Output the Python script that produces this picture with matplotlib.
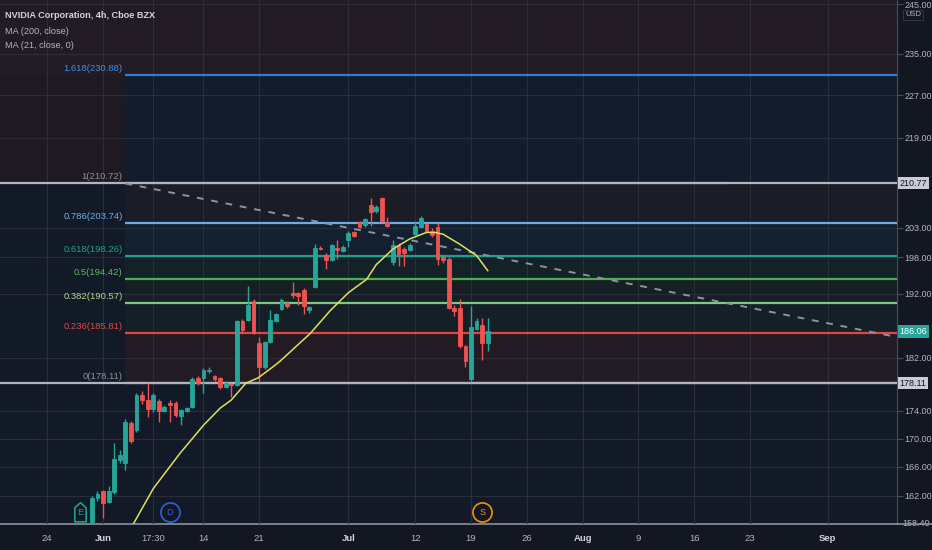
import matplotlib
matplotlib.use('Agg')
import matplotlib.pyplot as plt
import numpy as np
from matplotlib.path import Path
import matplotlib.transforms as mtransforms
from matplotlib.lines import Line2D

plt.rcParams['font.family'] = ['Liberation Sans Narrow', 'Liberation Sans', 'DejaVu Sans']

# ---------------- data ----------------
# x position = trading-day index (Jun 1 2021 = 0), two 4h bars per trading day
bar_t = np.arange(-1.0, 35.0, 0.5)
opens = [157.2, 161.7, 162.6, 161.2, 162.5, 167.0, 166.5, 172.3, 171.2, 176.3,
         175.6, 174.3, 175.5, 174.0, 175.2, 175.2, 173.2, 174.0, 174.6, 178.9,
         178.9, 180.0, 179.2, 178.9, 177.6, 178.0, 177.9, 187.7, 187.8, 190.9,
         184.3, 180.5, 184.4, 187.7, 189.6, 190.5, 192.1, 192.1, 192.6, 189.4,
         193.2, 199.6, 198.4, 197.6, 199.6, 199.1, 201.0, 202.3, 204.0, 203.4,
         206.9, 205.9, 208.2, 204.0, 197.2, 200.1, 199.4, 199.2, 202.0, 203.2,
         203.6, 202.5, 203.2, 198.0, 197.8, 189.8, 189.8, 183.7, 178.7, 186.4,
         187.1, 184.3]
highs = [162.0, 162.6, 162.8, 163.4, 169.3, 168.4, 172.8, 172.6, 176.6, 176.9,
         178.1, 176.6, 175.8, 174.9, 175.6, 175.5, 174.3, 174.6, 179.0, 179.2,
         180.4, 180.5, 179.4, 179.1, 178.4, 178.2, 187.9, 188.0, 193.3, 191.2,
         185.2, 184.6, 189.4, 189.0, 191.3, 190.8, 193.9, 192.3, 192.9, 190.1,
         200.3, 199.9, 198.7, 200.3, 201.0, 200.0, 202.4, 202.5, 204.2, 204.7,
         208.2, 206.9, 208.4, 204.9, 200.9, 200.4, 199.7, 200.4, 204.2, 205.1,
         203.9, 202.9, 203.9, 198.4, 198.0, 190.2, 191.2, 183.9, 190.0, 188.2,
         188.2, 188.1]
lows = [156.8, 161.3, 159.0, 161.0, 162.3, 166.6, 165.6, 169.3, 170.9, 175.0,
        173.1, 173.9, 172.4, 173.8, 172.4, 173.1, 171.9, 173.8, 174.4, 177.9,
        176.7, 179.6, 178.5, 177.3, 177.4, 176.0, 177.7, 185.8, 187.6, 185.6,
        178.35, 180.3, 184.2, 187.5, 189.4, 189.8, 191.4, 190.3, 188.8, 189.0,
        192.9, 199.2, 196.0, 197.4, 197.7, 198.9, 199.8, 201.4, 203.0, 203.2,
        203.3, 205.6, 204.0, 203.1, 196.7, 196.6, 196.6, 199.0, 201.8, 203.0,
        202.3, 201.5, 196.7, 197.0, 189.6, 188.5, 183.5, 180.6, 178.35, 186.2,
        181.6, 183.0]
closes = [161.7, 162.2, 161.0, 162.6, 167.1, 167.7, 172.4, 169.6, 176.3, 175.6,
          174.3, 176.3, 174.0, 174.6, 174.8, 173.4, 174.1, 174.4, 178.8, 178.1,
          180.1, 180.1, 178.7, 177.6, 178.2, 177.9, 187.6, 186.3, 190.2, 185.8,
          180.5, 184.4, 187.8, 188.8, 191.1, 190.0, 191.9, 191.7, 190.0, 189.9,
          199.6, 199.4, 197.6, 200.1, 199.2, 199.8, 202.1, 201.6, 203.2, 204.5,
          205.7, 206.6, 204.2, 203.3, 200.0, 198.6, 198.8, 200.1, 203.3, 204.7,
          202.5, 201.7, 197.8, 197.5, 189.8, 189.2, 183.7, 181.4, 186.8, 187.7,
          184.3, 186.06]

# MA(21) line
ma_t = [2.6, 4.51, 6.9, 9.0, 10.5, 11.5, 12.8, 13.9, 15.1, 15.85, 18.57, 20.36,
        22.0, 23.65, 24.5, 26.0, 27.5, 29.0, 29.75, 30.5, 32.0, 33.5, 34.5]
ma_v = [157.9, 163.0, 167.9, 171.9, 174.4, 175.6, 178.1, 178.9, 180.4, 181.4,
        185.7, 189.3, 192.2, 194.4, 196.8, 199.4, 201.1, 202.2, 202.2, 201.9,
        200.2, 198.3, 195.8]

# Fibonacci retracement
fib_ratios = ['1.618', '1', '0.786', '0.618', '0.5', '0.382', '0.236', '0']
fib_prices = [230.88, 210.72, 203.74, 198.26, 194.42, 190.57, 185.81, 178.11]
fib_start_t = 2.0

# horizontal lines
hline_prices = [210.77, 178.11]
last_price = 186.06

# trend line (dashed)
trend_t = [2.0, 70.8]
trend_p = [210.72, 185.3]

# events
event_labels = ['E', 'D', 'S']
event_t = [-2.06, 6.0, 34.0]

# axis ticks
ytick_vals = [162, 166, 170, 174, 182, 192, 198, 203, 219, 227, 235, 245]
xtick_t = [-5, 0, 4.5, 9, 14, 22, 28, 33, 38, 43, 48, 53, 58, 65]
xtick_labels = ['24', 'Jun', '17:30', '14', '21', 'Jul', '12', '19', '26', 'Aug', '9', '16', '23', 'Sep']

# ---------------- figure ----------------
W, H = 932, 550
fig = plt.figure(figsize=(W / 100, H / 100), dpi=100)
fig.patch.set_facecolor('#131722')
ax = fig.add_axes([0, 26 / H, 897 / W, 524 / H])
ax.set_facecolor('#131a27')
ax.set_yscale('log')
ax.set_xlim(-9.24, 71.2)
ax.set_ylim(158.2, 245.9)
t_right = 71.2

# background bands
ax.axhspan(fib_prices[1], 300, color='#1f1a22', zorder=0.5, lw=0)
ax.axhspan(fib_prices[0], 300, color='#221b23', zorder=0.6, lw=0)
band_cols = ['#121c2c', '#1a1c26', '#13202f', '#132128', '#161f23', '#151f27', '#221b24']
for i, c in enumerate(band_cols):
    ax.fill_between([fib_start_t, t_right], fib_prices[i + 1], fib_prices[i],
                    color=c, lw=0, zorder=0.8)

# grid
ax.set_axisbelow(False)
ax.grid(True, color='#2a2e3a', lw=0.8)

# fib lines and labels
fib_line_cols = ['#2e7fd6', '#6a8fc4', '#6aaee8', '#1e9e8c', '#4caf50', '#81c784', '#e0483f', '#9a9ea8']
fib_text_cols = ['#3d8fe0', '#8d9099', '#6fb0ea', '#22a08c', '#5cb860', '#b3cf95', '#e04a45', '#8d9099']
for i, (r, p) in enumerate(zip(fib_ratios, fib_prices)):
    xe = 56.0 if r == '1' else t_right
    ax.plot([fib_start_t, xe], [p, p], color=fib_line_cols[i], lw=1.6, zorder=3,
            solid_capstyle='butt')
    ax.annotate(f'{r}({p:.2f})', xy=(fib_start_t, p), xytext=(-2, 1.5),
                textcoords='offset points', ha='right', va='bottom',
                color=fib_text_cols[i], fontsize=6.8, zorder=6)

# horizontal lines (full width)
for p in hline_prices:
    ax.axhline(p, color='#b0b4bf', lw=1.6, zorder=3.2)

# dashed trend line
ax.plot(trend_t, trend_p, color='#8f939e', lw=1.4, ls=(0, (3.5, 4)), zorder=3.5)

# candles
up_c, dn_c = '#26a69a', '#ef5350'
cols = [up_c if c >= o else dn_c for o, c in zip(opens, closes)]
ax.vlines(bar_t, lows, highs, colors=cols, lw=1.0, zorder=4)
bottoms = [min(o, c) for o, c in zip(opens, closes)]
heights = [abs(c - o) for o, c in zip(opens, closes)]
ax.bar(bar_t, heights, bottom=bottoms, width=0.34, color=cols, edgecolor=cols,
       lw=0.6, zorder=4.5)

# MA 21
ax.plot(ma_t, ma_v, color='#e3df5c', lw=1.1, zorder=5)

# events
trans_ev = mtransforms.blended_transform_factory(ax.transData, ax.transAxes)
tag = Path([(-0.55, -0.9), (0.55, -0.9), (0.55, 0.45), (0, 0.95), (-0.55, 0.45), (-0.55, -0.9)],
           [Path.MOVETO, Path.LINETO, Path.LINETO, Path.LINETO, Path.LINETO, Path.CLOSEPOLY])
ev_cols = ['#1e9e8c', '#2f5fe0', '#f0920a']
for lab, t, c in zip(event_labels, event_t, ev_cols):
    mk = tag if lab == 'E' else 'o'
    ax.scatter([t], [0.023], transform=trans_ev, marker=mk, s=200 if lab == 'E' else 190,
               facecolor='#131722', edgecolor=c, lw=1.2, zorder=7, clip_on=False)
    ax.text(t, 0.021, lab, transform=trans_ev, color=c, fontsize=6.5, ha='center',
            va='center', zorder=8)

# axes styling
for s in ['top', 'left']:
    ax.spines[s].set_visible(False)
ax.spines['right'].set_color('#4a4e59')
ax.spines['bottom'].set_color('#8d919c')
ax.spines['bottom'].set_linewidth(1.2)
ax.yaxis.tick_right()
ax.set_yticks(ytick_vals)
ax.set_yticks([], minor=True)
ax.set_yticklabels([f'{v:.2f}' for v in ytick_vals])
ax.tick_params(axis='y', which='major', length=4, width=0.8, color='#4a4e59',
               labelcolor='#b2b5be', labelsize=6.5, pad=1.5)
ax.set_xticks(xtick_t)
ax.set_xticklabels(xtick_labels)
ax.tick_params(axis='x', length=0, labelcolor='#b2b5be', labelsize=6.8, pad=7)
for lbl in ax.get_xticklabels():
    if lbl.get_text() in ('Jun', 'Jul', 'Aug', 'Sep'):
        lbl.set_color('#d1d4dc')
        lbl.set_fontweight('bold')

# right-axis price boxes
trans_r = mtransforms.blended_transform_factory(ax.transAxes, ax.transData)
for p in hline_prices:
    ax.annotate(f'{p:.2f}', xy=(1.0, p), xycoords=trans_r, xytext=(2, 0),
                textcoords='offset points', ha='left', va='center', fontsize=6.5,
                color='#131722', annotation_clip=False, zorder=10,
                bbox=dict(boxstyle='square,pad=0.2', fc='#c9ccd4', ec='none'))
ax.annotate(f'{last_price:.2f}', xy=(1.0, last_price), xycoords=trans_r, xytext=(2, 0),
            textcoords='offset points', ha='left', va='center', fontsize=6.5,
            color='white', annotation_clip=False, zorder=10,
            bbox=dict(boxstyle='square,pad=0.2', fc='#26a69a', ec='none'))
ax.annotate('158.40', xy=(1.0, 158.4), xycoords=trans_r, xytext=(4, -1),
            textcoords='offset points', ha='left', va='center', fontsize=6.5,
            color='#b2b5be', annotation_clip=False, zorder=1)

# USD label
fig.text(913 / W, 1 - 15 / H, 'USD', color='#b2b5be', fontsize=5.5, ha='center',
         va='center', bbox=dict(boxstyle='square,pad=0.25', fc='#131722', ec='#363a45', lw=0.6))

# bottom line into right axis area
fig.add_artist(Line2D([897 / W, 1], [26 / H, 26 / H], color='#8d919c', lw=1.2))

# legend texts
fig.text(5 / W, 1 - 16 / H, 'NVIDIA Corporation, 4h, Cboe BZX', color='#d1d4dc',
         fontsize=6.6, fontweight='bold', va='center', ha='left')
fig.text(5 / W, 1 - 31 / H, 'MA (200, close)', color='#b2b5be', fontsize=6.6,
         va='center', ha='left')
fig.text(5 / W, 1 - 46 / H, 'MA (21, close, 0)', color='#b2b5be', fontsize=6.6,
         va='center', ha='left')

fig.savefig('out.png', dpi=100, facecolor=fig.get_facecolor())
